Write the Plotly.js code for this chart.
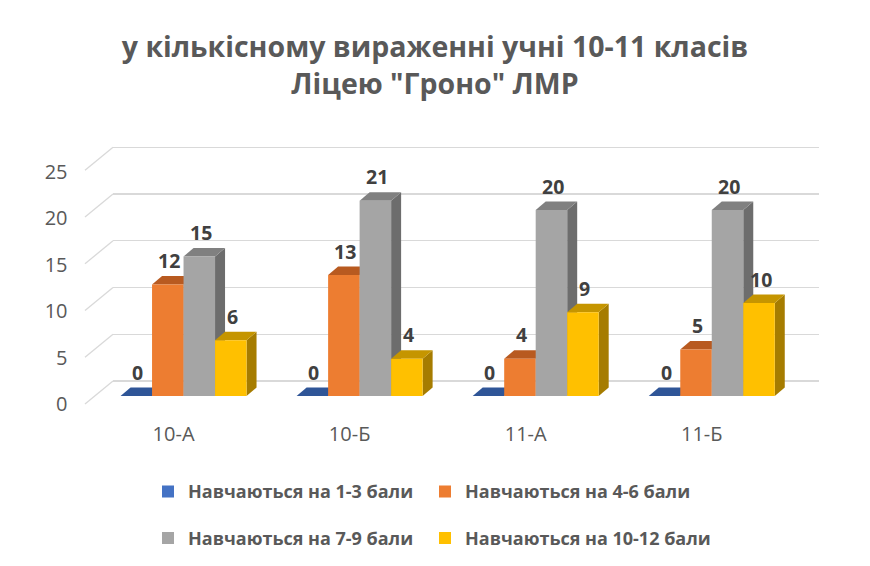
<!DOCTYPE html>
<html>
<head>
<meta charset="utf-8">
<script src="https://cdn.plot.ly/plotly-3.0.1.min.js"></script>
<style>html,body{margin:0;padding:0;background:#fff;}#chart{width:870px;height:566px;}</style>
</head>
<body>
<div id="chart"></div>
<script>
// ---- data ----
const categories = ['10-А', '10-Б', '11-А', '11-Б'];
const seriesNames = ['Навчаються на 1-3 бали', 'Навчаються на 4-6 бали', 'Навчаються на 7-9 бали', 'Навчаються на 10-12 бали'];
const grade1to3 = [0, 0, 0, 0];
const grade4to6 = [12, 13, 4, 5];
const grade7to9 = [15, 21, 20, 20];
const grade10to12 = [6, 4, 9, 10];
const yTicks = [0, 5, 10, 15, 20, 25];
const titleText = 'у кількісному вираженні учні 10-11 класів<br>Ліцею "Гроно" ЛМР';

// ---- styles ----
const frontColors = ['#4472C4', '#ED7D31', '#A5A5A5', '#FFC000'];
const topColors = ['#2F5597', '#B85A20', '#808080', '#C59500'];
const sideColors = ['#28477F', '#A04A18', '#6D6D6D', '#A67C00'];
const FONT = 'Open Sans';
const W = 870, H = 566;

// layout geometry (pixels)
const barLeft = 95.5, barRight = 799.8;        // x range [-0.5, 3.5]
const barBase = 396, barScale = 9.3;            // px per unit (front plane)
const barYRange = [-1, 27.5];
const wallLeft = 113, wallRight = 819;
const wallBase = 381, wallScale = 9.35;
const wallYRange = [-3, 25.5];
const depthPx = [10, 8.5];
// legend slots: [text-start x, row centre y]
const legendSlots = [[188, 491.7], [465, 491.7], [188, 538.3], [465, 538.3]];

const pxPerX = (barRight - barLeft) / 4;
const barW = 31.5 / pxPerX;
const dX = depthPx[0] / pxPerX;
const dY = depthPx[1] / barScale;

const fy = px => (H - px) / H;
const fx = px => px / W;

const allSeries = [grade1to3, grade4to6, grade7to9, grade10to12];
const catIdx = categories.map((c, i) => i);
const legendIds = ['legend', 'legend2', 'legend3', 'legend4'];

const traces = [];
// invisible trace to create the back-wall subplot
traces.push({type: 'scatter', x: [], y: [], xaxis: 'x', yaxis: 'y', showlegend: false, hoverinfo: 'skip'});

const shapes = [];
const annotations = [];

allSeries.forEach((vals, s) => {
  const off = (s - 1.5) * barW;
  const xs = catIdx.map(i => i + off);
  traces.push({
    type: 'bar', name: seriesNames[s], x: xs, y: vals, width: barW,
    xaxis: 'x2', yaxis: 'y2',
    marker: {color: frontColors[s], line: {width: 0}},
    legend: legendIds[s],
    hoverinfo: 'y'
  });
  vals.forEach((v, i) => {
    const x0 = xs[i] - barW / 2, x1 = xs[i] + barW / 2;
    if (v > 0) {
      shapes.push({type: 'path', xref: 'x2', yref: 'y2', layer: 'below',
        path: `M${x1},0 L${x1},${v} L${x1 + dX},${v + dY} L${x1 + dX},${dY} Z`,
        fillcolor: sideColors[s], line: {width: 0}});
    }
    shapes.push({type: 'path', xref: 'x2', yref: 'y2', layer: 'below',
      path: `M${x0},${v} L${x1},${v} L${x1 + dX},${v + dY} L${x0 + dX},${v + dY} Z`,
      fillcolor: topColors[s], line: {width: 0}});
    annotations.push({xref: 'x2', yref: 'y2', x: xs[i], y: v, xshift: 1.5, yshift: 24,
      text: String(v), showarrow: false, xanchor: 'center', yanchor: 'middle',
      font: {family: FONT, size: 19.5, color: '#404040', weight: 'bold'}});
  });
});

// floor diagonals of the grid
yTicks.forEach(v => {
  shapes.push({type: 'line', xref: 'paper', yref: 'y', x0: fx(85), x1: fx(wallLeft),
    y0: v - 23 / wallScale, y1: v, line: {color: '#D9D9D9', width: 1.3}, layer: 'below'});
});

const layout = {
  width: W, height: H,
  margin: {l: 0, r: 0, t: 0, b: 0},
  paper_bgcolor: '#ffffff',
  plot_bgcolor: 'rgba(0,0,0,0)',
  showlegend: true,
  title: {text: titleText, x: 0.5, xanchor: 'center', xref: 'paper',
    y: fy(57), yanchor: 'middle', yref: 'container',
    font: {family: FONT, size: 28.5, color: '#595959', weight: 'bold'}},
  xaxis: {domain: [fx(wallLeft), fx(wallRight)], range: [0, 1], visible: false, fixedrange: true},
  yaxis: {domain: [fy(wallBase - wallScale * wallYRange[0]), fy(wallBase - wallScale * wallYRange[1])],
    range: wallYRange, tickvals: yTicks, showgrid: true, gridcolor: '#D9D9D9', gridwidth: 1.3,
    zeroline: false, showline: false, showticklabels: false, ticks: '', fixedrange: true},
  xaxis2: {domain: [fx(barLeft), fx(barRight)], range: [-0.5, 3.5], anchor: 'y2',
    tickvals: catIdx, ticktext: categories, showgrid: false, zeroline: false, showline: false,
    ticks: '', ticklabelshift: -10, ticklabelstandoff: 15,
    tickfont: {family: FONT, size: 20, color: '#595959'}, fixedrange: true},
  yaxis2: {domain: [fy(barBase - barScale * barYRange[0]), fy(barBase - barScale * barYRange[1])],
    range: barYRange, anchor: 'x2', tickvals: yTicks, ticktext: yTicks.map(String),
    showgrid: false, zeroline: false, showline: false, ticks: '',
    ticklabelshift: 8, ticklabelstandoff: 27,
    tickfont: {family: FONT, size: 20, color: '#595959'}, fixedrange: true},
  barmode: 'overlay',
  shapes: shapes,
  annotations: annotations
};

legendIds.forEach((id, s) => {
  layout[id] = {orientation: 'h', x: fx(legendSlots[s][0] - 40), xanchor: 'left',
    y: fy(legendSlots[s][1]), yanchor: 'middle', bgcolor: 'rgba(0,0,0,0)',
    font: {family: FONT, size: 18, color: '#595959', weight: 'bold'}};
});

Plotly.newPlot('chart', traces, layout, {displayModeBar: false, staticPlot: true});
</script>
</body>
</html>
